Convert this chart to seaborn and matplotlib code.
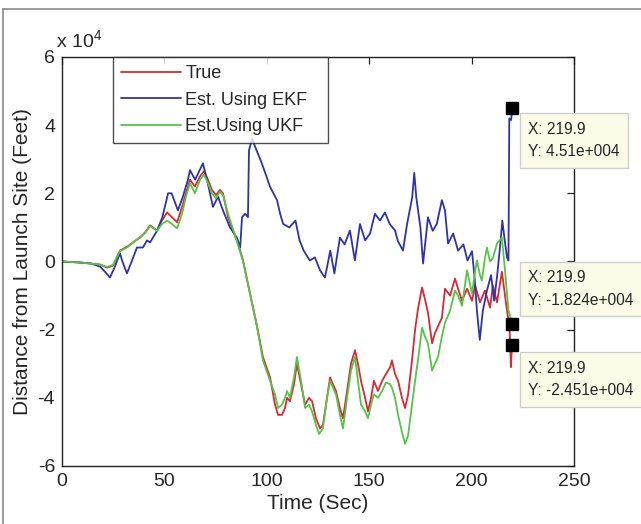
import matplotlib
matplotlib.use("Agg")
import matplotlib.pyplot as plt
from matplotlib.lines import Line2D
from matplotlib.ticker import FuncFormatter
import pandas as pd
import seaborn as sns

# Range of the vehicle from the launch site (feet) against flight time (s)
t_true = [0, 8.8, 13.7, 18.6, 22.0, 24.9, 28.3, 32.2, 35.6, 38.1, 40.5, 43.0, 46.4, 48.8, 51.3,
          53.7, 56.2, 58.6, 60.5, 62.5, 64.9, 67.4, 69.3, 71.3, 73.2, 75.2, 77.1, 78.6, 81.1,
          83.5, 85.9, 88.4, 91.8, 95.2, 98.1, 101.6, 104.0, 105.5, 107.4, 108.9, 109.9, 111.3,
          113.3, 114.7, 116.7, 118.7, 120.6, 122.1, 124.0, 126.0, 127.4, 129.4, 130.9, 132.3,
          133.8, 135.7, 137.2, 139.2, 141.1, 143.1, 144.5, 146.0, 148.0, 149.4, 150.9, 152.3,
          154.3, 156.3, 158.2, 160.2, 161.1, 162.6, 164.1, 166.0, 167.5, 169.0, 170.9, 172.4,
          173.8, 175.8, 177.2, 178.7, 180.7, 182.1, 183.6, 185.5, 187.0, 189.5, 191.9, 193.4,
          195.3, 197.8, 200.2, 201.7, 204.1, 206.5, 209.0, 210.4, 212.4, 214.8, 217.3, 218.5,
          219.2, 219.6, 219.9]
d_true = [0, -300, -600, -900, -1800, -1200, 3200, 4500, 6000, 7000, 8500, 10600, 9100, 12000,
          14400, 13000, 11500, 16000, 20000, 24000, 22000, 25000, 26500, 24000, 21000, 19500,
          21000, 20000, 13000, 9000, 5300, 300, -9400, -19000, -28000, -34000, -42000, -45000,
          -45000, -43000, -40000, -41000, -36000, -30000, -36000, -42000, -40000, -41000,
          -46000, -49000, -48000, -40000, -34000, -36000, -38000, -43000, -46000, -38000,
          -30000, -26000, -30000, -35000, -40000, -44000, -40000, -35000, -38000, -35000,
          -33000, -31000, -29000, -33000, -35000, -40000, -43000, -39000, -29000, -20000,
          -14000, -7600, -11000, -15000, -24000, -21000, -19000, -16500, -8000, -10000, -5000,
          -8000, -11500, -8000, -11500, -7000, -12000, -8500, -13500, -7000, -12000, -3000,
          -14500, -19000, -31000, -26000, -24510]

t_ekf = [0, 8.8, 13.7, 18.6, 21.0, 23.4, 25.5, 28.3, 29.5, 31.7, 34.0, 36.6, 39.5, 41.5, 43.0,
         46.4, 49.0, 51.8, 53.5, 56.6, 59.0, 61.5, 62.5, 65.0, 68.8, 70.8, 73.7, 76.2, 78.6,
         82.0, 85.4, 87.0, 87.9, 89.4, 90.8, 91.3, 92.8, 95.0, 97.0, 100.0, 101.5, 105.0,
         106.5, 108.0, 111.0, 114.0, 116.0, 118.0, 121.0, 123.5, 126.0, 128.4, 131.0, 133.0,
         135.7, 138.0, 140.6, 143.0, 145.5, 148.0, 150.4, 152.8, 155.3, 157.7, 160.0, 162.6,
         164.0, 166.5, 168.5, 171.0, 172.0, 173.0, 175.0, 176.3, 178.7, 181.0, 183.0, 185.5,
         187.0, 188.5, 191.0, 193.4, 196.0, 198.0, 200.2, 201.5, 202.6, 204.0, 205.5, 207.5,
         209.5, 211.0, 212.5, 214.0, 215.0, 216.0, 217.3, 218.0, 218.4, 219.3, 219.9]
d_ekf = [0, -300, -500, -1500, -3000, -4700, -2000, 2400, 0, -3500, 0, 4100, 4100, 6200, 5600,
         9000, 13000, 20000, 20000, 15000, 19000, 24000, 26800, 24000, 28800, 24000, 16000,
         19000, 15000, 10000, 7000, 4100, 13000, 14000, 13000, 32600, 36000, 32600, 29700,
         24700, 22000, 18000, 14000, 11000, 10000, 12000, 6200, 3200, 300, 1200, -2600, -4700,
         3200, -3500, 7000, 5000, 9100, 300, 11000, 6200, 8200, 14000, 12000, 14400, 11000,
         9100, 6000, 3200, 11000, 18800, 26000, 18800, 10000, -600, 13000, 9000, 11000, 18000,
         15000, 5300, 8200, 3200, 5000, 300, 3000, -5000, -14400, -23000, -14400, -8500,
         -4000, -11500, -4000, 5000, 12000, 7000, 1200, 300, 42000, 41500, 45100]

t_ukf = [0, 8.8, 13.7, 18.6, 22.0, 24.9, 28.3, 32.2, 35.6, 38.1, 40.5, 43.0, 46.4, 48.8, 51.3,
         53.7, 56.2, 58.6, 60.5, 62.5, 64.9, 67.4, 69.3, 71.3, 73.2, 75.2, 77.1, 78.6, 81.1,
         83.5, 85.9, 88.4, 91.8, 95.2, 98.1, 101.6, 104.0, 105.5, 107.4, 108.9, 109.9, 111.3,
         113.3, 114.7, 116.7, 118.7, 120.6, 122.1, 124.0, 125.5, 127.4, 129.4, 130.9, 132.3,
         133.8, 135.7, 137.2, 139.2, 141.1, 143.1, 144.5, 146.0, 148.0, 149.4, 150.9, 152.3,
         154.3, 156.3, 158.2, 160.2, 161.1, 162.6, 164.1, 166.0, 167.5, 169.0, 170.9, 172.4,
         173.8, 175.8, 177.2, 178.7, 180.7, 182.1, 183.6, 185.5, 187.0, 189.5, 191.9, 193.4,
         195.3, 197.8, 200.2, 201.7, 202.6, 204.1, 205.0, 206.5, 207.5, 209.0, 210.4, 212.4,
         214.8, 216.3, 218.0, 219.9]
d_ukf = [0, -300, -600, -900, -1600, -1000, 3000, 4300, 6000, 7200, 8300, 10400, 9000, 11000,
         12000, 11000, 9700, 14000, 19000, 23000, 20000, 24000, 25500, 23000, 20000, 18500,
         20500, 19500, 14000, 9500, 5000, 0, -9400, -19000, -29000, -35000, -39000, -43000,
         -42000, -40000, -38000, -40000, -34000, -28000, -35000, -43000, -42000, -44000,
         -48000, -50600, -49000, -40000, -35000, -37000, -39000, -45000, -49000, -40000,
         -32000, -28000, -35000, -42000, -44000, -46000, -42000, -39000, -40000, -38000,
         -35500, -36000, -37000, -40000, -45000, -50000, -53500, -51000, -42000, -35000,
         -29000, -19400, -22000, -24000, -32000, -30000, -28000, -22000, -18000, -14400,
         -8500, -10000, -13000, -2600, -9400, -3000, 300, -4000, -5600, 1000, 4100, 0, 1000,
         5300, 7000, -2600, -14400, -18240]

series_names = ["True", "Est. Using EKF", "Est.Using UKF"]
series_colors = ["#d62a35", "#3033a6", "#55c448"]

# Data cursors at the last sample of each curve
tip_time = 219.9
tip_values = [45100, -18240, -24510]
tip_texts = ["X: 219.9\nY: 4.51e+004", "X: 219.9\nY: -1.824e+004", "X: 219.9\nY: -2.451e+004"]

x_ticks = [0, 50, 100, 150, 200, 250]
y_ticks = [-60000, -40000, -20000, 0, 20000, 40000, 60000]

frames = []
for name, t, d in zip(series_names, [t_true, t_ekf, t_ukf], [d_true, d_ekf, d_ukf]):
    frames.append(pd.DataFrame({"time": t, "dist": d, "series": name}))
df = pd.concat(frames, ignore_index=True)

sns.set_style("white")
plt.rcParams["font.family"] = ["Liberation Sans", "DejaVu Sans"]
plt.rcParams["mathtext.default"] = "regular"
text_color = "#262626"

fig = plt.figure(figsize=(6.41, 5.24), dpi=100)
ax = fig.add_axes([62 / 641, 1 - 466 / 524, 512 / 641, 409 / 524])

sns.lineplot(data=df, x="time", y="dist", hue="series", hue_order=series_names,
             palette=dict(zip(series_names, series_colors)), estimator=None, sort=False,
             linewidth=1.3, legend=False, ax=ax)

ax.set_xlim(0, 250)
ax.set_ylim(-60000, 60000)
ax.set_xticks(x_ticks)
ax.set_yticks(y_ticks)
ax.yaxis.set_major_formatter(FuncFormatter(lambda v, p: f"{v / 1e4:g}"))
ax.tick_params(direction="in", length=5, width=0.9, top=True, right=True,
               labelsize=14, colors="#222222", labelcolor=text_color, pad=5)
for s in ax.spines.values():
    s.set_color("#222222")
    s.set_linewidth(1.0)

ax.set_xlabel("Time (Sec)", fontsize=15, color=text_color, labelpad=3)
ax.set_ylabel("Distance from Launch Site (Feet)", fontsize=15, color=text_color, labelpad=4)
ax.text(-0.012, 1.015, r"x 10$^4$", transform=ax.transAxes, fontsize=14,
        color=text_color, ha="left", va="bottom")

handles = [Line2D([], [], color=c, lw=1.3) for c in series_colors]
leg = ax.legend(handles, series_names, loc="upper left", mode="expand",
                bbox_to_anchor=(0.0996, 0.79, 0.42, 0.21), borderaxespad=0,
                fontsize=13, frameon=True, fancybox=False, handlelength=3.3,
                handletextpad=0.25, labelspacing=0.52, borderpad=0.45)
leg.get_frame().set_edgecolor("#222222")
leg.get_frame().set_linewidth(1.0)
for txt in leg.get_texts():
    txt.set_color(text_color)

offsets = [((16, -14), "top"), ((16, 16), "bottom"), ((16, -16), "top")]
for val, label, (off, va) in zip(tip_values, tip_texts, offsets):
    ax.plot([tip_time], [val], marker="s", color="black", markersize=8.5, clip_on=False,
            zorder=6)
    ax.annotate(label, xy=(tip_time, val), xytext=off, textcoords="offset pixels",
                ha="left", va=va, fontsize=11.2, color=text_color, linespacing=1.6,
                annotation_clip=False, zorder=7,
                bbox=dict(boxstyle="square,pad=0.55", fc="#fbfbe8", ec="#cfcfcf", lw=1.0))

# thin frame around the figure
fig.add_artist(Line2D([3 / 641, 3 / 641], [0, 1 - 9 / 524], color="#8a8a8a", lw=1.2))
fig.add_artist(Line2D([3 / 641, 1], [1 - 9 / 524, 1 - 9 / 524], color="#8a8a8a", lw=1.2))

fig.savefig("out.png", dpi=100)
